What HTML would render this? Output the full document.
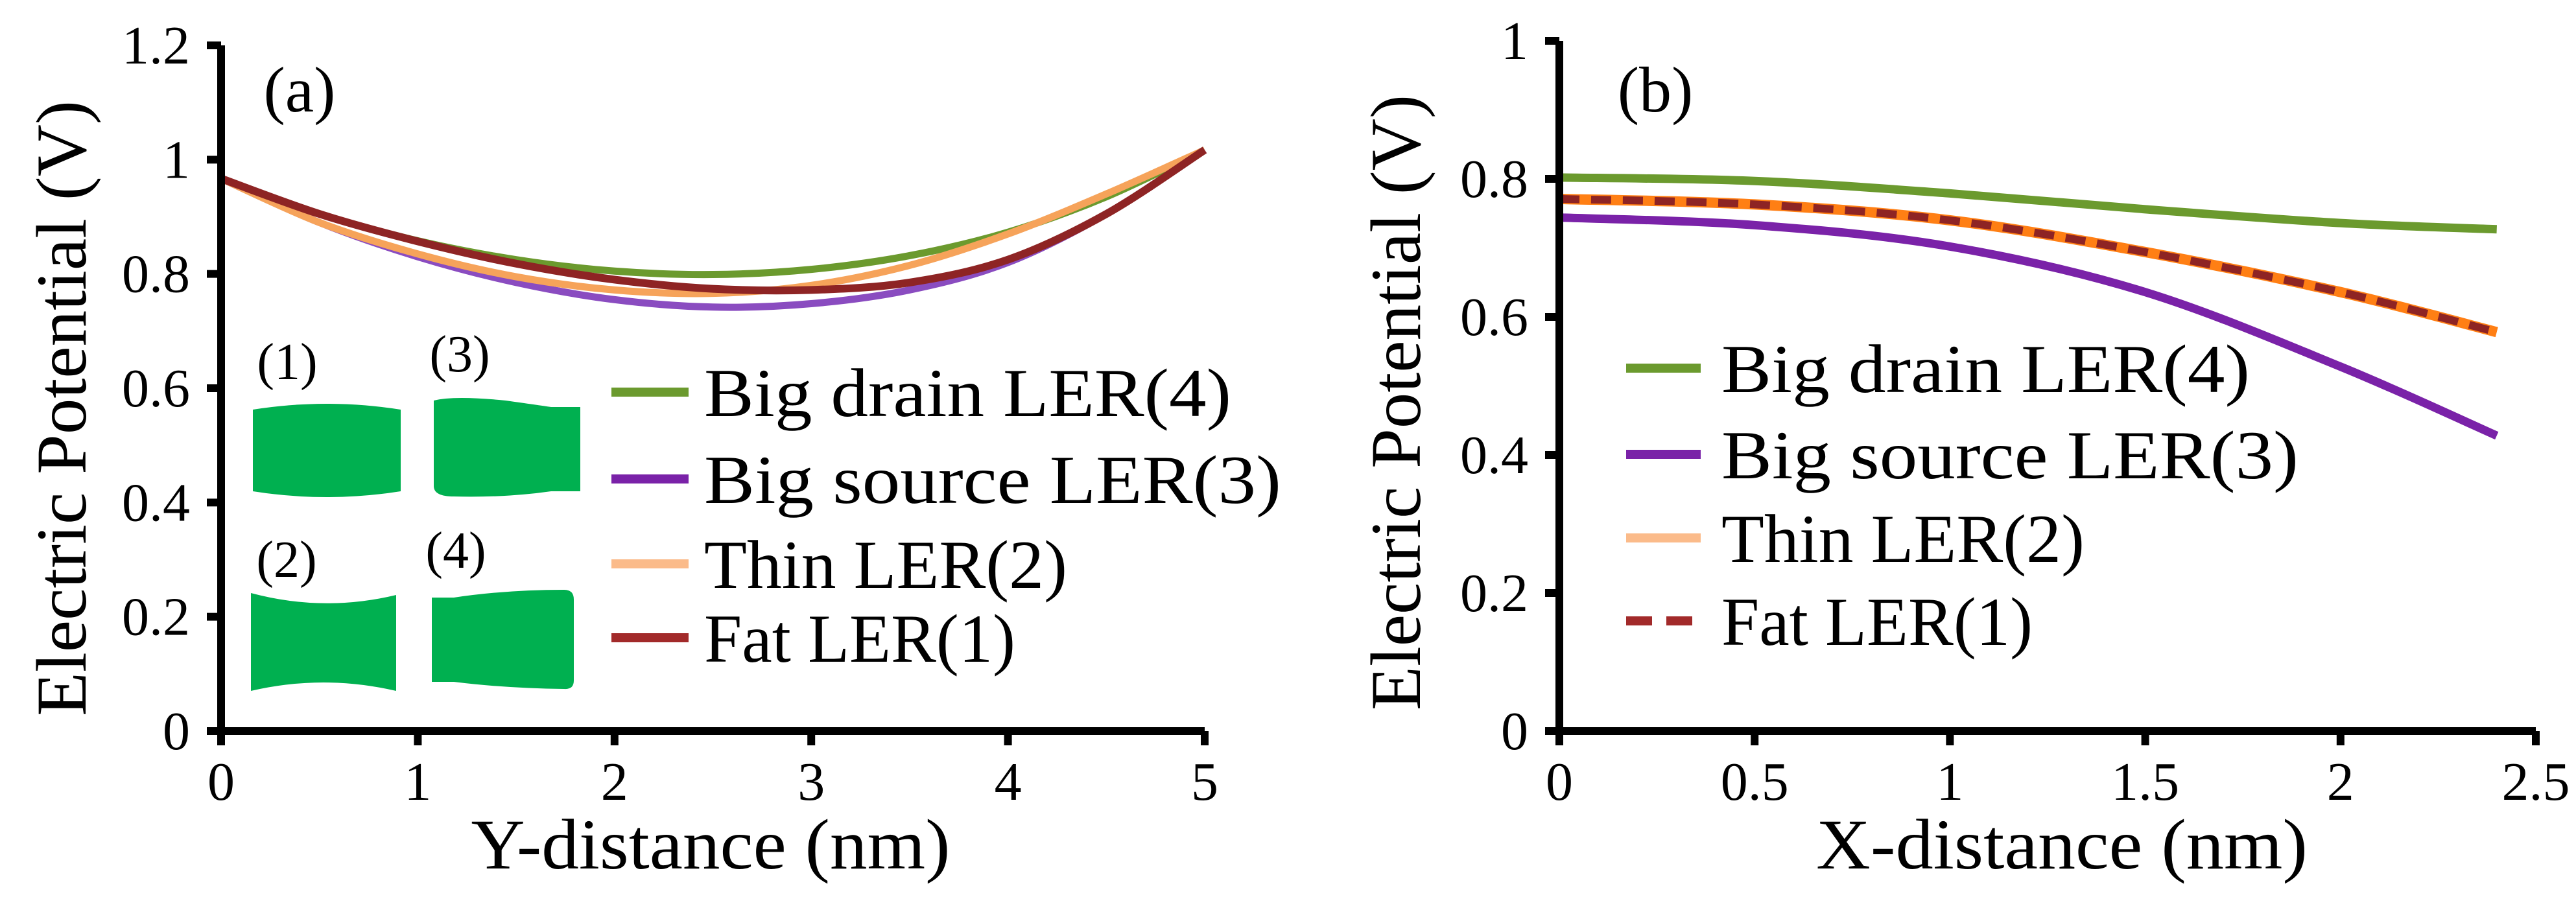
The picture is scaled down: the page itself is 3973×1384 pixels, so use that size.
<!DOCTYPE html>
<html><head><meta charset="utf-8"><style>
html,body{margin:0;padding:0;background:#fff;}
svg{display:block;font-family:"Liberation Serif","Times New Roman",Times,serif;}
text{font-family:"Liberation Serif","Times New Roman",Times,serif;fill:#000;}
</style></head><body>
<svg id="fig" width="3973" height="1384" viewBox="0 0 3973 1384" xmlns="http://www.w3.org/2000/svg" font-family="Liberation Serif, Times New Roman, Times, serif">
<g id="pa"></g>
<g id="pb"></g>
</svg>
<script>
// Panel (a) data
const aX = [0,0.5,1,1.5,2,2.5,3,3.5,4,4.5,5];
const aGreen  = [0.967,0.905,0.858,0.825,0.805,0.799,0.808,0.832,0.873,0.935,1.017];
const aPurple = [0.967,0.89,0.83,0.785,0.755,0.742,0.748,0.772,0.82,0.905,1.017];
const aOrange = [0.967,0.89,0.835,0.795,0.772,0.766,0.78,0.815,0.87,0.94,1.017];
const aRed    = [0.967,0.905,0.857,0.818,0.79,0.774,0.772,0.785,0.825,0.905,1.017];
const aXTicks = [0,1,2,3,4,5];
const aYTicks = [0,0.2,0.4,0.6,0.8,1,1.2];
const aXTickLabels = ["0","1","2","3","4","5"];
const aYTickLabels = ["0","0.2","0.4","0.6","0.8","1","1.2"];
// Panel (b) data
const bX = [0,0.5,1,1.5,2,2.4];
const bGreen  = [0.802,0.797,0.779,0.756,0.736,0.727];
const bPurple = [0.744,0.733,0.702,0.636,0.528,0.428];
const bOrange = [0.771,0.763,0.74,0.694,0.636,0.578];
const bRed    = [0.771,0.763,0.74,0.694,0.636,0.578];
const bXTicks = [0,0.5,1,1.5,2,2.5];
const bYTicks = [0,0.2,0.4,0.6,0.8,1];
const bXTickLabels = ["0","0.5","1","1.5","2","2.5"];
const bYTickLabels = ["0","0.2","0.4","0.6","0.8","1"];
const legendLabels = ["Big drain LER(4)","Big source LER(3)","Thin LER(2)","Fat LER(1)"];

const NS="http://www.w3.org/2000/svg";
const FF="Liberation Serif, Times New Roman, Times, serif";
function mk(tag, parent, attrs){const e=document.createElementNS(NS,tag);for(const k in attrs)e.setAttribute(k,attrs[k]);if(tag==="text")e.setAttribute("font-family",FF);parent.appendChild(e);return e;}
function smooth(pts){let d="M"+pts[0][0]+","+pts[0][1];for(let i=0;i<pts.length-1;i++){const p0=pts[Math.max(0,i-1)],p1=pts[i],p2=pts[i+1],p3=pts[Math.min(pts.length-1,i+2)];const c1x=p1[0]+(p2[0]-p0[0])/6,c1y=p1[1]+(p2[1]-p0[1])/6,c2x=p2[0]-(p3[0]-p1[0])/6,c2y=p2[1]-(p3[1]-p1[1])/6;d+=" C"+c1x+","+c1y+" "+c2x+","+c2y+" "+p2[0]+","+p2[1];}return d;}

function panel(g, cfg){
  const sx=v=>cfg.x0+(v-cfg.xmin)/(cfg.xmax-cfg.xmin)*(cfg.x1-cfg.x0);
  const sy=v=>cfg.y0-(v-cfg.ymin)/(cfg.ymax-cfg.ymin)*(cfg.y0-cfg.y1);
  cfg.series.forEach(s=>{
    const pts=cfg.xs.map((x,i)=>[sx(x),sy(s.vals[i])]);
    const p=mk("path",g,{d:smooth(pts),fill:"none",stroke:s.color,"stroke-width":s.w,"stroke-linecap":"butt"});
    if(s.dash)p.setAttribute("stroke-dasharray",s.dash);
    
    
  });
  const ax=mk("path",g,{d:`M${cfg.x0},${sy(cfg.ymax)} L${cfg.x0},${cfg.y0} L${sx(cfg.xmax)},${cfg.y0}`,fill:"none",stroke:"#000","stroke-width":12});
  
  
  cfg.xticks.forEach((t,i)=>{
    const l=mk("line",g,{x1:sx(t),x2:sx(t),y1:cfg.y0,y2:cfg.y0+22,stroke:"#000","stroke-width":12});
    
    
    const tx=mk("text",g,{x:sx(t),y:cfg.y0+106,"font-size":84,"text-anchor":"middle"});
    tx.textContent=cfg.xlabels[i];
    
    
  });
  cfg.yticks.forEach((t,i)=>{
    const l=mk("line",g,{x1:cfg.x0-22,x2:cfg.x0,y1:sy(t),y2:sy(t),stroke:"#000","stroke-width":12});
    
    
    const tx=mk("text",g,{x:cfg.x0-48,y:sy(t)+28,"font-size":84,"text-anchor":"end"});
    tx.textContent=cfg.ylabels[i];
    
    
  });
  const xt=mk("text",g,{x:cfg.xtx,y:1340,"font-size":110,"text-anchor":"middle",textLength:cfg.xtl,lengthAdjust:"spacingAndGlyphs"});
  xt.textContent=cfg.xtitle;
  
  
  const yt=mk("text",g,{x:0,y:0,"font-size":110,"text-anchor":"middle",textLength:950,lengthAdjust:"spacingAndGlyphs",transform:`translate(${cfg.ytx},${cfg.yty}) rotate(-90)`});
  yt.textContent="Electric Potential (V)";
  
  
  const pl=mk("text",g,{x:cfg.plx,y:172,"font-size":100,"text-anchor":"middle"});
  pl.textContent=cfg.plabel;
  
  
  cfg.legend.rows.forEach((r,i)=>{
    const s=cfg.legend.sw[i];
    const lg=mk("g",g,{});
    
    
    const ln=mk("line",lg,{x1:cfg.legend.lx0,x2:cfg.legend.lx1,y1:r,y2:r,stroke:s.color,"stroke-width":14});
    if(s.dash)ln.setAttribute("stroke-dasharray",s.dash);
    const t=mk("text",lg,{x:cfg.legend.tx,y:r+37,"font-size":106,textLength:cfg.legend.tl[i],lengthAdjust:"spacingAndGlyphs"});
    t.textContent=legendLabels[i];
  });
}

const G="#6b9a2e",P="#7a22a8",RD="#8e2424";
panel(document.getElementById("pa"),{
  x0:341,x1:1858,xmin:0,xmax:5,y0:1128,y1:70,ymin:0,ymax:1.2,xs:aX,
  series:[
    {name:"series-big-drain",vals:aGreen,color:G,w:11},
    {name:"series-big-source",vals:aPurple,color:"#8a4cc0",w:11},
    {name:"series-thin",vals:aOrange,color:"#f6a35a",w:11},
    {name:"series-fat",vals:aRed,color:RD,w:12}],
  xticks:aXTicks,yticks:aYTicks,xlabels:aXTickLabels,ylabels:aYTickLabels,
  xtitle:"Y-distance (nm)",xtx:1096,xtl:739,ytx:132,yty:630,plx:462,plabel:"(a)",
  legend:{rows:[605,739,870,984],lx0:943,lx1:1062,tx:1086,tl:[813,890,560,480],
    sw:[{color:G},{color:P},{color:"#fbbb8a"},{color:"#a22a2a"}]}
});
panel(document.getElementById("pb"),{
  x0:2405,x1:3911,xmin:0,xmax:2.5,y0:1128,y1:63,ymin:0,ymax:1,xs:bX,
  series:[
    {name:"series-big-drain",vals:bGreen,color:G,w:13},
    {name:"series-big-source",vals:bPurple,color:P,w:13},
    {name:"series-thin",vals:bOrange,color:"#ff7f14",w:16},
    {name:"series-fat",vals:bRed,color:RD,w:12,dash:"31 18"}],
  xticks:bXTicks,yticks:bYTicks,xlabels:bXTickLabels,ylabels:bYTickLabels,
  xtitle:"X-distance (nm)",xtx:3180,xtl:758,ytx:2190,yty:621,plx:2553,plabel:"(b)",
  legend:{rows:[568,701,830,958],lx0:2508,lx1:2623,tx:2655,tl:[815,890,560,480],
    sw:[{color:G},{color:P},{color:"#fbbb8a"},{color:"#a22a2a",dash:"40 22"}]}
});

const pa=document.getElementById("pa");
const insets=[
  {name:"inset-shape-fat",d:"M390,632 Q504,614 618,632 L618,758 Q504,776 390,758 Z",lab:"(1)",lx:443,ly:585},
  {name:"inset-shape-big-source",d:"M669,618 Q700,610 780,618 Q830,625 850,628 L895,628 L895,758 L850,758 Q780,768 700,766 Q669,766 669,750 Z",lab:"(3)",lx:709,ly:573},
  {name:"inset-shape-thin",d:"M387,915 Q499,945 611,918 L611,1066 Q499,1040 387,1066 Z",lab:"(2)",lx:442,ly:890},
  {name:"inset-shape-big-drain",d:"M666,922 L700,922 Q780,910 870,910 Q885,910 885,925 L885,1050 Q885,1064 870,1063 Q780,1062 700,1052 L666,1052 Z",lab:"(4)",lx:703,ly:876}
];
insets.forEach(s=>{
  const p=mk("path",pa,{d:s.d,fill:"#00b050"});
  
  
  const t=mk("text",pa,{x:s.lx,y:s.ly,"font-size":80,"text-anchor":"middle"});
  t.textContent=s.lab;
  
  
});
</script>
</body></html>
